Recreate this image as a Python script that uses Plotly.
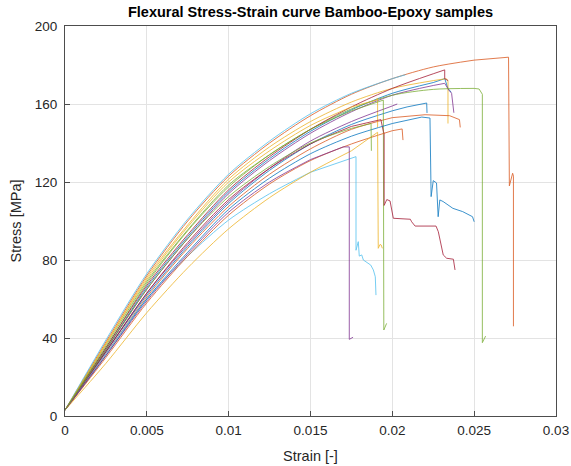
import plotly.graph_objects as go

# common strain knots for the rising (pre-peak) part of each curve
KNOTS = [0, 0.0025, 0.005, 0.0075, 0.01, 0.0125, 0.015, 0.0175, 0.02, 0.0225, 0.025]

# colours (MATLAB default colour order)
BLUE, ORANGE, YELLOW, PURPLE, GREEN, LBLUE, RED = (
    "#0072BD", "#D95319", "#EDB120", "#7E2F8E", "#77AC30", "#4DBEEE", "#A2142F")

# --- per-sample data: rising stress at KNOTS, then failure tail (strain, stress)
B1_rise = [3, 34, 66, 92, 115, 132, 146, 157, 165.5, 171]
B1_tail_x = [0.0232, 0.0234, 0.0236]
B1_tail_y = [173, 168, 166]

O1_rise = [3, 38, 72, 100, 123, 140, 154, 165, 173, 179, 182.5]
O1_tail_x = [0.0265, 0.0271, 0.02715, 0.02735, 0.0274, 0.0274]
O1_tail_y = [183.8, 184, 118, 124.5, 123, 46]

Y1_rise = [3, 37, 71, 98, 121.5, 138, 151, 161, 168, 172]
Y1_tail_x = [0.0233, 0.0234, 0.0234]
Y1_tail_y = [173, 172, 150]

P1_rise = [3, 34, 65, 91, 114, 131, 145, 156, 164.5, 169.5]
P1_tail_x = [0.0232, 0.02346, 0.02362, 0.02376]
P1_tail_y = [170.6, 167, 165.5, 155.5]

G1_rise = [3, 35, 68, 95, 117.5, 134, 147, 157.5, 164.5, 167.5, 168]
G1_tail_x = [0.0253, 0.0255, 0.0255, 0.0257]
G1_tail_y = [167.7, 165, 37.6, 41]

L1_rise = [3, 39, 73, 101, 124, 141, 155, 165.5, 173]
L1_tail_x = [0.0208]
L1_tail_y = [175]

R1_rise = [3, 35, 67, 93, 116, 133, 147, 158.5, 168, 175.5]
R1_tail_x = [0.0232, 0.0232, 0.0234]
R1_tail_y = [177.5, 173, 172]

B2_rise = [3, 33, 62, 87, 109, 126, 139.5, 149.5, 156.5]
B2_tail_x = [0.0209, 0.0221, 0.02212]
B2_tail_y = [158.5, 160.5, 155.4]

O2_rise = [3, 32, 61, 86, 107.5, 124, 137, 147, 153]
O2_tail_x = [0.022, 0.0235, 0.0241, 0.02415]
O2_tail_y = [154.5, 154, 152, 148]

Y2_rise = [3, 37, 70, 97, 120, 136, 149, 158.5]
Y2_tail_x = [0.019, 0.0191, 0.0191]
Y2_tail_y = [162, 163, 148]

P2_rise = [3, 33, 63, 88, 110, 127, 141, 151, 159]
P2_tail_x = [0.0203]
P2_tail_y = [160]

G2_rise = [3, 36, 69, 95.5, 118.5, 134, 147, 156.5]
G2_tail_x = [0.019, 0.01945, 0.01948, 0.01965]
G2_tail_y = [161, 162, 44.1, 47.5]

L2_rise = [3, 32, 60, 82, 100.5, 114, 125]
L2_tail_x = [0.0171, 0.0177, 0.01778, 0.01778, 0.01792, 0.01798, 0.01813,
             0.01823, 0.01868, 0.01884, 0.01896, 0.019]
L2_tail_y = [131.3, 132.7, 133, 85, 89.4, 82, 82.6, 80, 77.4, 74.9, 71.4, 62]

R2_rise = [3, 33, 63, 89, 111, 127, 139.5, 148.5]
R2_tail_x = [0.0193, 0.01945, 0.0195, 0.0195, 0.01966, 0.01986, 0.01996, 0.02006,
             0.0211, 0.02118, 0.02139, 0.02267, 0.02281, 0.02311, 0.02332,
             0.02373, 0.02383]
R2_tail_y = [152, 146, 145, 108, 111, 110.3, 106.5, 101.4, 100.9, 99.6, 97.4,
             97.4, 94.5, 82.6, 80.9, 80.4, 74.9]

B3_rise = [3, 31, 60, 84, 106, 122, 134.5, 143.5, 150]
B3_tail_x = [0.0218, 0.0223, 0.02237, 0.0225, 0.0227, 0.0228, 0.0229, 0.0231,
             0.0237, 0.0243, 0.0249, 0.0250]
B3_tail_y = [153.3, 152.8, 112.5, 120.7, 119.5, 102.2, 110.8, 110, 106.5,
             104.8, 102.2, 99.6]

O3_rise = [3, 30, 58, 82, 103, 119, 131, 139.5, 146.3]
O3_tail_x = [0.0206, 0.02065]
O3_tail_y = [147.2, 141.5]

Y3_rise = [3, 27, 53, 76, 96, 112, 125, 136]
Y3_tail_x = [0.0191, 0.01914, 0.01925, 0.01932, 0.01939]
Y3_tail_y = [145.5, 86, 88, 87.7, 86]

P3_rise = [3, 31, 59, 83, 104.5, 120, 131.5]
P3_tail_x = [0.017, 0.01737, 0.01737, 0.0176]
P3_tail_y = [138, 138, 39.3, 40.4]

G3_rise = [3, 34, 65, 91, 112.5, 128, 140, 147.5]
G3_tail_x = [0.0187, 0.01872]
G3_tail_y = [150, 136]

SAMPLES = [
    (BLUE, B1_rise, B1_tail_x, B1_tail_y),
    (ORANGE, O1_rise, O1_tail_x, O1_tail_y),
    (YELLOW, Y1_rise, Y1_tail_x, Y1_tail_y),
    (PURPLE, P1_rise, P1_tail_x, P1_tail_y),
    (GREEN, G1_rise, G1_tail_x, G1_tail_y),
    (LBLUE, L1_rise, L1_tail_x, L1_tail_y),
    (RED, R1_rise, R1_tail_x, R1_tail_y),
    (BLUE, B2_rise, B2_tail_x, B2_tail_y),
    (ORANGE, O2_rise, O2_tail_x, O2_tail_y),
    (YELLOW, Y2_rise, Y2_tail_x, Y2_tail_y),
    (PURPLE, P2_rise, P2_tail_x, P2_tail_y),
    (GREEN, G2_rise, G2_tail_x, G2_tail_y),
    (LBLUE, L2_rise, L2_tail_x, L2_tail_y),
    (RED, R2_rise, R2_tail_x, R2_tail_y),
    (BLUE, B3_rise, B3_tail_x, B3_tail_y),
    (ORANGE, O3_rise, O3_tail_x, O3_tail_y),
    (YELLOW, Y3_rise, Y3_tail_x, Y3_tail_y),
    (PURPLE, P3_rise, P3_tail_x, P3_tail_y),
    (GREEN, G3_rise, G3_tail_x, G3_tail_y),
]

X_TICKS = [0, 0.005, 0.01, 0.015, 0.02, 0.025, 0.03]
X_TICK_TEXT = ["0", "0.005", "0.01", "0.015", "0.02", "0.025", "0.03"]
Y_TICKS = [0, 40, 80, 120, 160, 200]

FONT = "Liberation Sans, Arial, Helvetica, sans-serif"

fig = go.Figure()
for color, rise, tx, ty in SAMPLES:
    rx = KNOTS[:len(rise)]
    fig.add_trace(go.Scatter(x=rx, y=rise, mode="lines",
                             line=dict(color=color, width=0.9, shape="spline", smoothing=0.8),
                             opacity=0.85, showlegend=False, hoverinfo="skip"))
    fig.add_trace(go.Scatter(x=[rx[-1]] + tx, y=[rise[-1]] + ty, mode="lines",
                             line=dict(color=color, width=0.9),
                             opacity=0.85, showlegend=False, hoverinfo="skip"))

axis_common = dict(showline=True, linecolor="#4d4d4d", linewidth=1, mirror=True,
                   ticks="inside", ticklen=5, tickcolor="#4d4d4d",
                   showgrid=True, gridcolor="#e3e3e3", gridwidth=1, zeroline=False,
                   automargin=False,
                   tickfont=dict(family=FONT, size=13.5, color="#262626"))

fig.update_layout(
    width=571, height=466,
    paper_bgcolor="white", plot_bgcolor="white",
    margin=dict(l=65, r=15, t=26, b=50),
    title=dict(text="<b>Flexural Stress-Strain curve Bamboo-Epoxy samples</b>",
               x=0.5, xref="paper", xanchor="center",
               y=1 - 12 / 466, yref="container", yanchor="middle",
               automargin=False,
               font=dict(family=FONT, size=14.5, color="black")),
    xaxis=dict(range=[0, 0.03], tickvals=X_TICKS, ticktext=X_TICK_TEXT,
               ticklabelstandoff=2,
               title=dict(text="Strain [-]", standoff=13,
                          font=dict(family=FONT, size=14.5, color="#262626")),
               **axis_common),
    yaxis=dict(range=[0, 200], tickvals=Y_TICKS,
               ticklabelstandoff=4,
               title=dict(text="Stress [MPa]", standoff=9,
                          font=dict(family=FONT, size=14.5, color="#262626")),
               **axis_common),
)

fig.write_html("out.html", config={"displayModeBar": False},
               post_script="document.body.style.margin='0';")
